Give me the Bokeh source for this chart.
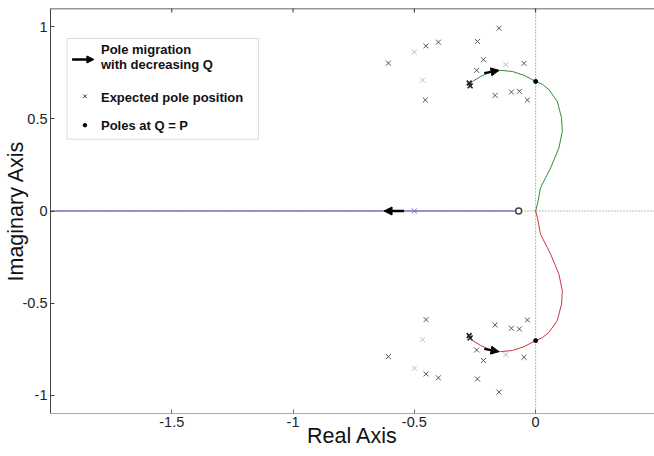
import math
from bokeh.plotting import figure
from bokeh.models import (Span, Arrow, NormalHead, BoxAnnotation, Label,
                          FixedTicker, Range1d)
from bokeh.embed import file_html
from bokeh.resources import INLINE

# ---------------- data ----------------
x_ticks = [-1.5, -1, -0.5, 0]
x_tick_labels = ["-1.5", "-1", "-0.5", "0"]
y_ticks = [-1, -0.5, 0, 0.5, 1]
y_tick_labels = ["-1", "-0.5", "0", "0.5", "1"]
x_lim = (-2.0, 0.49)
y_lim = (-1.1, 1.1)

# upper root-locus branch (green)
upper_x = [0, 0.008, 0.02, 0.062, 0.096, 0.11, 0.107, 0.089, 0.055, 0.028, 0,
           -0.048, -0.096, -0.144, -0.185, -0.226, -0.26, -0.274]
upper_y = [0, 0.04, 0.126, 0.235, 0.343, 0.433, 0.505, 0.596, 0.659, 0.688, 0.704,
           0.737, 0.758, 0.764, 0.755, 0.731, 0.704, 0.686]
# lower root-locus branch (red)
lower_x = [0, 0.008, 0.02, 0.062, 0.096, 0.11, 0.107, 0.089, 0.055, 0.028, 0,
           -0.048, -0.096, -0.144, -0.185, -0.226, -0.26, -0.274]
lower_y = [0, -0.04, -0.126, -0.235, -0.343, -0.433, -0.505, -0.596, -0.659, -0.688, -0.704,
           -0.737, -0.758, -0.764, -0.755, -0.731, -0.704, -0.686]
# real-axis branch (blue)
real_x = [-2.0, -0.07]
real_y = [0, 0]

# expected pole positions
exp_dark_x = [-0.607, -0.452, -0.401, -0.455, -0.24, -0.151, -0.215, -0.243, -0.048,
              -0.167, -0.1, -0.067, -0.034,
              -0.607, -0.452, -0.401, -0.452, -0.24, -0.151, -0.215, -0.243, -0.048,
              -0.167, -0.1, -0.067, -0.034]
exp_dark_y = [0.803, 0.897, 0.917, 0.603, 0.921, 0.993, 0.822, 0.764, 0.802,
              0.628, 0.646, 0.65, 0.603,
              -0.791, -0.885, -0.906, -0.59, -0.912, -0.984, -0.812, -0.755, -0.795,
              -0.619, -0.637, -0.641, -0.592]
exp_light_x = [-0.5, -0.466, -0.123, -0.5, -0.466, -0.123]
exp_light_y = [0.863, 0.711, 0.795, -0.854, -0.699, -0.78]
exp_bold_x = [-0.274, -0.27, -0.274, -0.27]
exp_bold_y = [0.695, 0.68, -0.677, -0.69]
exp_real_x = [-0.5]
exp_real_y = [0]

# poles at Q = P
pole_x = [0, 0]
pole_y = [0.704, -0.704]
# zero
zero_x = [-0.07]
zero_y = [0]

# migration arrows (start -> end)
arrow_x_start = [-0.212, -0.212, -0.543]
arrow_y_start = [0.749, -0.749, 0]
arrow_x_end = [-0.151, -0.151, -0.625]
arrow_y_end = [0.764, -0.764, 0]

legend_texts = ["Pole migration", "with decreasing Q", "Expected pole position", "Poles at Q = P"]

FONT = "Liberation Sans"

p = figure(width=654, height=456, output_backend="svg", toolbar_location=None,
           x_range=Range1d(*x_lim), y_range=Range1d(*y_lim),
           min_border_left=50, min_border_right=0, min_border_top=8,
           min_border_bottom=43, background_fill_color="white",
           border_fill_color="white")
p.outline_line_color = None
p.grid.visible = False

# axes styling
for ax, ticks, labels in ((p.xaxis[0], x_ticks, x_tick_labels),
                          (p.yaxis[0], y_ticks, y_tick_labels)):
    ax.ticker = FixedTicker(ticks=ticks)
    ax.major_label_overrides = {t: l for t, l in zip(ticks, labels)}
    ax.major_tick_in = 4
    ax.major_tick_out = 0
    ax.minor_tick_line_color = None
    ax.major_label_text_font = FONT
    ax.major_label_text_font_size = "14.5px"
    ax.major_label_text_color = "#222222"
    ax.major_label_standoff = 3
    ax.axis_label_text_font = FONT
    ax.axis_label_text_font_size = "21.5px"
    ax.axis_label_text_font_style = "normal"
    ax.axis_label_text_color = "#111111"
    ax.axis_label_standoff = -8

p.xaxis.axis_label = "Real Axis"
p.yaxis.axis_label = "Imaginary Axis"
p.xaxis.axis_label_standoff = -6
p.xaxis.axis_line_color = "#aaaaaa"
p.xaxis.major_tick_line_color = "#666666"
p.yaxis.axis_line_color = "#444444"
p.yaxis.major_tick_line_color = "#444444"

# top border with inward ticks
p.add_layout(Span(location=y_lim[1], dimension="width", line_color="#333333", line_width=1.5))
p.scatter(x_ticks, [y_lim[1]] * len(x_ticks), marker="dash", angle=math.pi / 2, size=8,
          line_color="#333333", line_width=1)

# dotted axis lines
p.add_layout(Span(location=0, dimension="height", line_color="#777777", line_dash="1 2",
                  line_width=1, level="underlay"))
p.add_layout(Span(location=0, dimension="width", line_color="#777777", line_dash="1 2",
                  line_width=1, level="underlay"))

# locus
p.line(real_x, real_y, line_color="#3c3cb4", line_width=1)
p.line(upper_x, upper_y, line_color="#2f8f2f", line_width=1)
p.line(lower_x, lower_y, line_color="#cc3344", line_width=1)

# expected poles
p.scatter(exp_light_x, exp_light_y, marker="x", size=7, line_color="#bbbbbb", line_width=1)
p.scatter(exp_dark_x, exp_dark_y, marker="x", size=7, line_color="#555555", line_width=1)
p.scatter(exp_bold_x, exp_bold_y, marker="x", size=7, line_color="#222222", line_width=1.6)
p.scatter(exp_real_x, exp_real_y, marker="x", size=7, line_color="#6a6acc", line_width=1)

# zero and poles
p.scatter(zero_x, zero_y, marker="circle", size=6, line_color="#444444",
          fill_color="white", line_width=1.5)
p.scatter(pole_x, pole_y, marker="circle", size=4, line_color="black", fill_color="black")

# migration arrows
for xs, ys, xe, ye in zip(arrow_x_start, arrow_y_start, arrow_x_end, arrow_y_end):
    p.add_layout(Arrow(end=NormalHead(size=8, fill_color="black", line_color="black"),
                       x_start=xs, y_start=ys, x_end=xe, y_end=ye,
                       line_color="black", line_width=2.5))

# legend (drawn by hand)
p.add_layout(BoxAnnotation(left=-1.932, right=-1.143, top=0.937, bottom=0.39,
                           fill_color="white", fill_alpha=1.0,
                           line_color="#888888", line_width=1, level="annotation"))
p.add_layout(Arrow(end=NormalHead(size=7, fill_color="black", line_color="black"),
                   x_start=-1.911, y_start=0.823, x_end=-1.821, y_end=0.823,
                   line_color="black", line_width=2.5, level="overlay"))
leg_y = [0.878, 0.796, 0.618, 0.466]
for txt, ly in zip(legend_texts, leg_y):
    p.add_layout(Label(x=-1.792, y=ly, text=txt, text_font=FONT, text_font_size="13px",
                       text_font_style="bold", text_color="#111111",
                       text_baseline="middle", level="overlay"))
legx = p.scatter([-1.858], [0.623], marker="x", size=5, line_color="#333333", line_width=1)
legd = p.scatter([-1.858], [0.466], marker="circle", size=3.5, line_color="black",
                 fill_color="black")
legx.level = "overlay"
legd.level = "overlay"

open("out.html", "w").write(file_html(p, INLINE))
